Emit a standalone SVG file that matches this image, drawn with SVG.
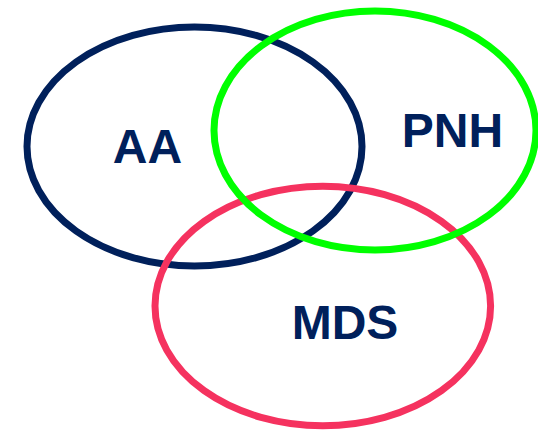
<svg xmlns="http://www.w3.org/2000/svg" width="538" height="430" viewBox="0 0 538 430">
<style>
.set{fill:none;stroke-width:7}
.lbl{font-family:"Liberation Sans",Arial,sans-serif;font-weight:bold;font-size:48px;fill:#00205B;text-anchor:middle}
</style>
<rect width="538" height="430" fill="#fff"/>
<g id="AA">
<ellipse class="set" cx="194.5" cy="146.5" rx="167.5" ry="119.5" stroke="#00205B"/>
<text class="lbl" x="147.5" y="163">AA</text>
</g>
<g id="MDS">
<ellipse class="set" cx="322.8" cy="306" rx="167.8" ry="119.8" stroke="#F5325F"/>
<text class="lbl" x="345" y="339">MDS</text>
</g>
<g id="PNH">
<ellipse class="set" cx="375" cy="130.5" rx="161" ry="119.5" stroke="#00FF00"/>
<text class="lbl" x="452.5" y="147">PNH</text>
</g>
<g id="connectors"></g>
</svg>
